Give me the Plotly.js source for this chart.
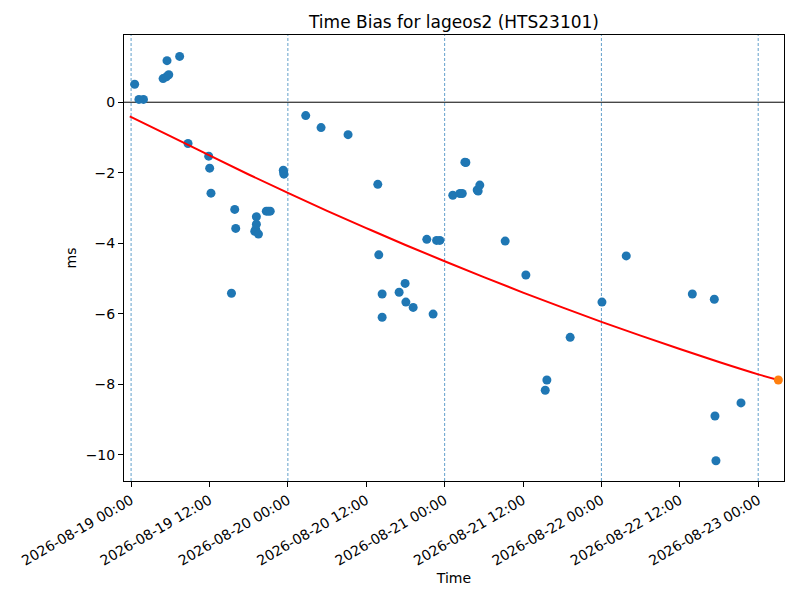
<!DOCTYPE html>
<html>
<head>
<meta charset="utf-8">
<script src="https://cdn.plot.ly/plotly-3.0.1.min.js"></script>
<style>
  html, body { margin: 0; padding: 0; background: #fff; }
  #chart { width: 800px; height: 600px; }
</style>
</head>
<body>
<div id="chart"></div>
<script>
// observed time bias, one entry per pass
const obsTimes = [
  '2026-08-19 00:33', '2026-08-19 01:12', '2026-08-19 01:54', '2026-08-19 04:54',
  '2026-08-19 05:24', '2026-08-19 05:46', '2026-08-19 05:30', '2026-08-19 07:26',
  '2026-08-19 08:43', '2026-08-19 11:53', '2026-08-19 12:02', '2026-08-19 12:14',
  '2026-08-19 15:22', '2026-08-19 15:52', '2026-08-19 16:01', '2026-08-19 18:56',
  '2026-08-19 19:05', '2026-08-19 19:11', '2026-08-19 19:11', '2026-08-19 19:30',
  '2026-08-19 20:42', '2026-08-19 21:00', '2026-08-19 21:18', '2026-08-19 23:18',
  '2026-08-19 23:24', '2026-08-19 23:21', '2026-08-20 02:44', '2026-08-20 05:05',
  '2026-08-20 09:13', '2026-08-20 13:46', '2026-08-20 13:55', '2026-08-20 14:26',
  '2026-08-20 14:26', '2026-08-20 17:02', '2026-08-20 17:57', '2026-08-20 18:04',
  '2026-08-20 19:11', '2026-08-20 21:16', '2026-08-20 22:14', '2026-08-20 22:46',
  '2026-08-20 23:16', '2026-08-21 01:15', '2026-08-21 02:20', '2026-08-21 02:42',
  '2026-08-21 03:15', '2026-08-21 03:06', '2026-08-21 04:59', '2026-08-21 05:08',
  '2026-08-21 05:23', '2026-08-21 09:16', '2026-08-21 12:26', '2026-08-21 15:24',
  '2026-08-21 15:39', '2026-08-21 19:13', '2026-08-22 00:05', '2026-08-22 03:48',
  '2026-08-22 13:55', '2026-08-22 17:17', '2026-08-22 17:23', '2026-08-22 17:32',
  '2026-08-22 21:22'
];
const obsBias = [
  0.51, 0.08, 0.08, 0.67,
  0.72, 0.78, 1.18, 1.30,
  -1.17, -1.53, -1.87, -2.58,
  -5.42, -3.04, -3.58, -3.66,
  -3.61, -3.25, -3.46, -3.74,
  -3.09, -3.09, -3.09, -1.93,
  -2.04, -1.98, -0.38, -0.72,
  -0.92, -2.33, -4.33, -5.44,
  -6.10, -5.39, -5.14, -5.67,
  -5.82, -3.89, -6.01, -3.92,
  -3.92, -2.64, -2.59, -2.59,
  -1.71, -1.70, -2.49, -2.52,
  -2.35, -3.94, -4.90, -8.17,
  -7.88, -6.67, -5.67, -4.36,
  -5.44, -5.59, -8.90, -10.17,
  -8.53
];

// fitted trend
const fitTimes = [
  '2026-08-18 23:48', '2026-08-19 06:00', '2026-08-19 12:00', '2026-08-19 18:00',
  '2026-08-20 00:00', '2026-08-20 06:00', '2026-08-20 12:00', '2026-08-20 18:00',
  '2026-08-21 00:00', '2026-08-21 06:00', '2026-08-21 12:00', '2026-08-21 18:00',
  '2026-08-22 00:00', '2026-08-22 06:00', '2026-08-22 12:00', '2026-08-22 18:00',
  '2026-08-23 00:00', '2026-08-23 03:05'
];
const fitBias = [
  -0.40, -0.96, -1.51, -2.05,
  -2.57, -3.08, -3.57, -4.05,
  -4.51, -4.96, -5.40, -5.82,
  -6.23, -6.62, -7.00, -7.37,
  -7.72, -7.88
];

// predicted point at the end of the curve
const predTime = ['2026-08-23 03:05'];
const predBias = [-7.88];

const midnights = ['2026-08-19', '2026-08-20', '2026-08-21', '2026-08-22', '2026-08-23'];

const font = 'DejaVu Sans, sans-serif';

const data = [
  {
    type: 'scatter', mode: 'markers',
    x: obsTimes, y: obsBias,
    marker: { color: '#1f77b4', size: 9 },
    hoverinfo: 'skip'
  },
  {
    type: 'scatter', mode: 'lines',
    x: fitTimes, y: fitBias,
    line: { color: '#ff0000', width: 2, shape: 'spline' },
    hoverinfo: 'skip'
  },
  {
    type: 'scatter', mode: 'markers',
    x: predTime, y: predBias,
    marker: { color: '#ff7f0e', size: 9 },
    hoverinfo: 'skip'
  }
];

const shapes = midnights.map(d => ({
  type: 'line', xref: 'x', yref: 'paper',
  x0: d, x1: d, y0: 0, y1: 1,
  line: { color: '#1f77b4', width: 0.7, dash: '3px,2px' },
  layer: 'below'
}));
shapes.push({
  type: 'line', xref: 'paper', yref: 'y',
  x0: 0, x1: 1, y0: 0, y1: 0,
  line: { color: '#000000', width: 1 },
  layer: 'below'
});

const layout = {
  width: 800, height: 600,
  showlegend: false,
  paper_bgcolor: '#ffffff', plot_bgcolor: '#ffffff',
  margin: { l: 124, r: 16, t: 35, b: 119 },
  font: { family: font, size: 14, color: '#000' },
  title: {
    text: 'Time Bias for lageos2 (HTS23101)',
    font: { family: font, size: 17, color: '#000' },
    xref: 'paper', x: 0.5, xanchor: 'center', y: 0.963, yanchor: 'middle'
  },
  xaxis: {
    type: 'date',
    range: ['2026-08-18 22:55', '2026-08-23 03:57'],
    tick0: '2026-08-19', dtick: 43200000,
    tickformat: '%Y-%m-%d %H:%M',
    tickangle: -30,
    tickfont: { family: font, size: 14 },
    ticks: 'outside', ticklen: 5, tickwidth: 1, tickcolor: '#000',
    showgrid: false, zeroline: false,
    showline: true, mirror: true, linecolor: '#000', linewidth: 1,
    title: { text: 'Time', font: { family: font, size: 14 }, standoff: 5 }
  },
  yaxis: {
    range: [-10.745, 1.907],
    dtick: 2,
    tickfont: { family: font, size: 14 },
    ticks: 'outside', ticklen: 5, tickwidth: 1, tickcolor: '#000',
    showgrid: false, zeroline: false,
    showline: true, mirror: true, linecolor: '#000', linewidth: 1,
    title: { text: 'ms', font: { family: font, size: 14 }, standoff: 5 }
  },
  shapes: shapes
};

Plotly.newPlot('chart', data, layout, { displayModeBar: false, staticPlot: true });
</script>
</body>
</html>
